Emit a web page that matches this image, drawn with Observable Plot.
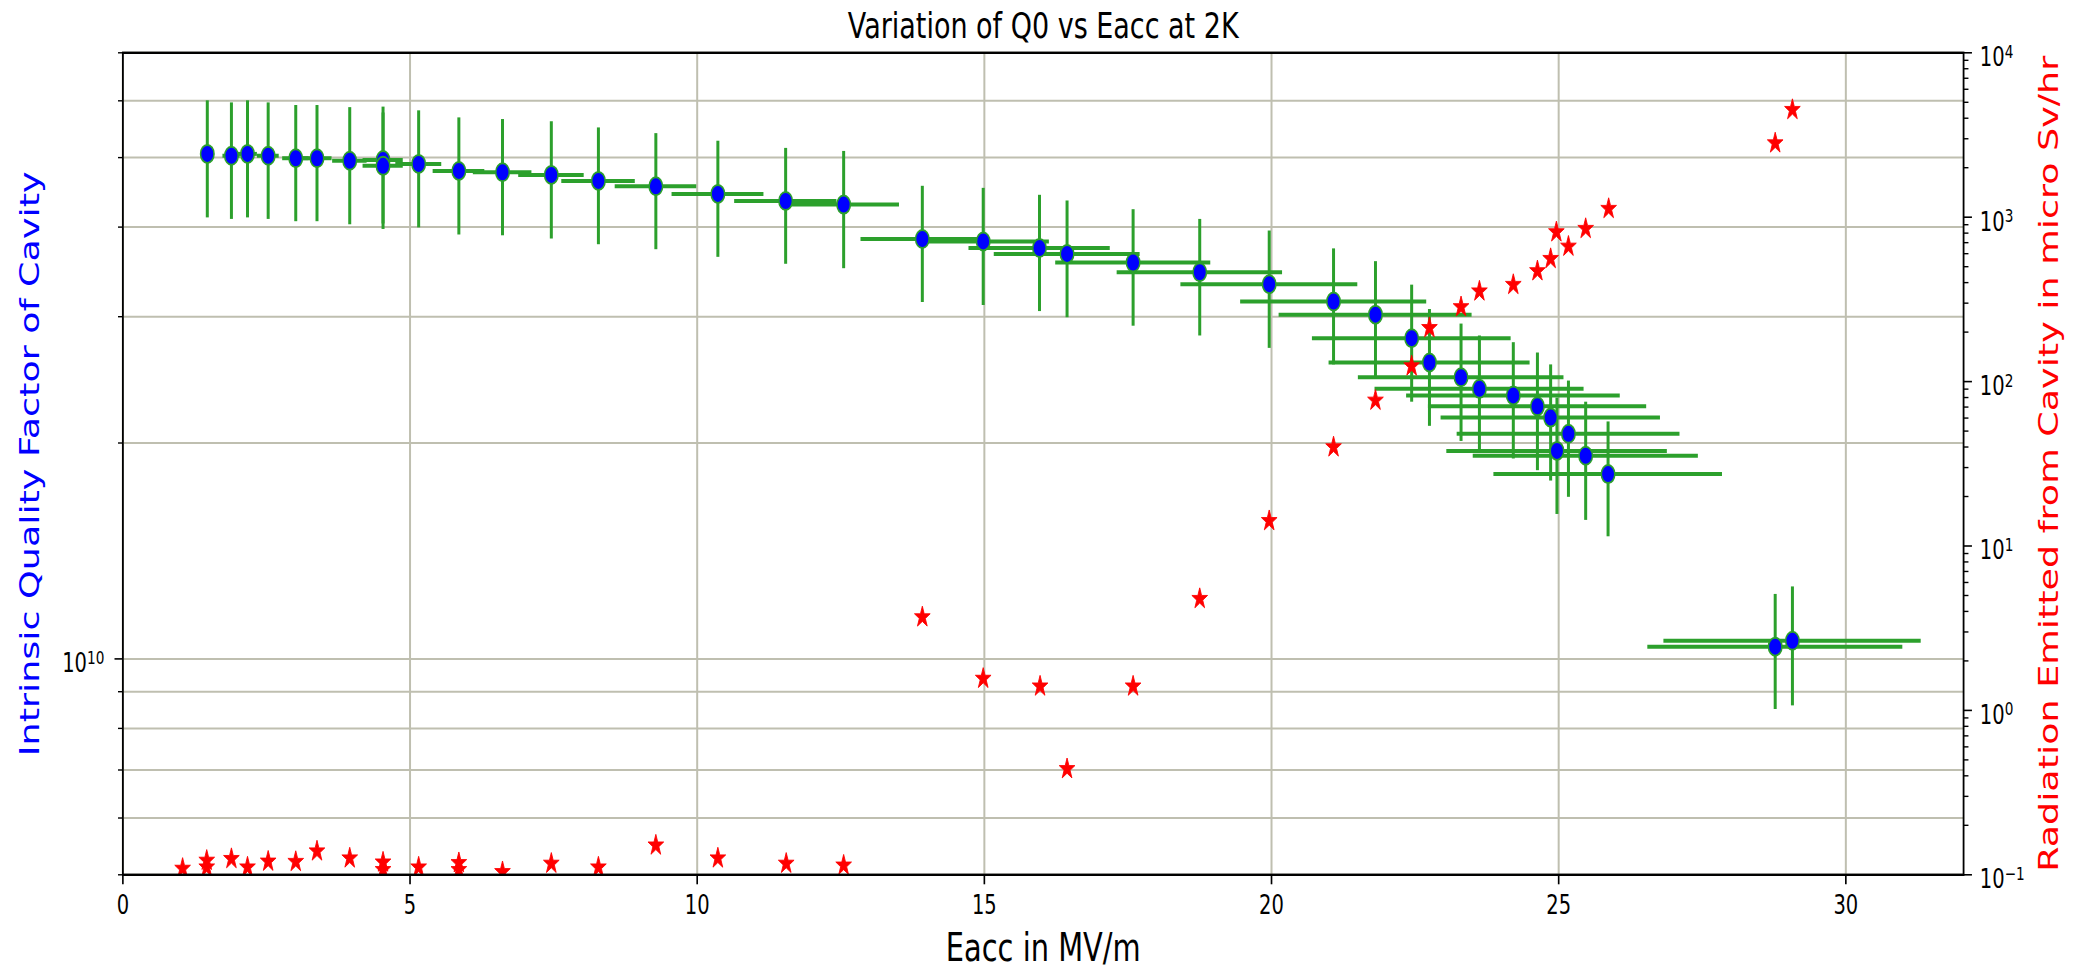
<!DOCTYPE html>
<html>
<head>
<meta charset="utf-8">
<script src="https://cdn.jsdelivr.net/npm/d3@7"></script>
<script src="https://cdn.jsdelivr.net/npm/@observablehq/plot@0.6"></script>
<style>
  html, body { margin: 0; padding: 0; background: #ffffff; }
  #chart svg { display: block; }
</style>
</head>
<body>
<div id="chart"></div>
<script>
// ---------------- data ----------------
const title = "Variation of Q0 vs Eacc at 2K";
const xLabel = "Eacc in MV/m";
const yLeftLabel = "Intrinsic Quality Factor of Cavity";
const yRightLabel = "Radiation Emitted from Cavity in micro Sv/hr";

// Q0 measurements (blue points with green error bars)
const eacc = [1.47, 1.89, 2.17, 2.53, 3.01, 3.38, 3.95, 4.53, 4.53, 5.15, 5.85, 6.61, 7.46, 8.28, 9.28,
  10.36, 11.54, 12.55, 13.92, 14.98, 15.96, 16.44, 17.59, 18.75, 19.96, 21.08, 21.81, 22.44, 22.75,
  23.30, 23.62, 24.21, 24.63, 24.86, 25.17, 24.97, 25.47, 25.86, 28.77, 29.07];
const q0 = [5.06e10, 5.03e10, 5.06e10, 5.03e10, 4.99e10, 4.99e10, 4.95e10, 4.96e10, 4.87e10, 4.90e10,
  4.79e10, 4.77e10, 4.73e10, 4.64e10, 4.56e10, 4.45e10, 4.35e10, 4.30e10, 3.85e10, 3.82e10, 3.74e10,
  3.67e10, 3.57e10, 3.46e10, 3.33e10, 3.15e10, 3.02e10, 2.80e10, 2.59e10, 2.47e10, 2.38e10, 2.33e10,
  2.25e10, 2.17e10, 2.06e10, 1.95e10, 1.92e10, 1.81e10, 1.04e10, 1.06e10];
const eaccErr = [0.11, 0.15, 0.17, 0.19, 0.23, 0.26, 0.30, 0.35, 0.35, 0.40, 0.45, 0.51, 0.57, 0.64, 0.71,
  0.80, 0.89, 0.97, 1.07, 1.15, 1.23, 1.27, 1.35, 1.44, 1.54, 1.62, 1.68, 1.73, 1.75, 1.79, 1.82, 1.86,
  1.90, 1.91, 1.94, 1.92, 1.96, 1.99, 2.22, 2.24];
const q0Err = [0.94e10, 0.93e10, 0.94e10, 0.93e10, 0.92e10, 0.92e10, 0.92e10, 0.92e10, 0.90e10, 0.91e10,
  0.89e10, 0.88e10, 0.88e10, 0.86e10, 0.84e10, 0.82e10, 0.80e10, 0.80e10, 0.71e10, 0.71e10, 0.69e10,
  0.68e10, 0.66e10, 0.64e10, 0.62e10, 0.58e10, 0.56e10, 0.52e10, 0.48e10, 0.46e10, 0.44e10, 0.43e10,
  0.42e10, 0.40e10, 0.38e10, 0.36e10, 0.36e10, 0.33e10, 0.19e10, 0.20e10];

// Radiation measurements (red stars, right axis)
const radEacc = [1.04, 1.46, 1.46, 1.89, 2.17, 2.53, 3.01, 3.38, 3.95, 4.53, 4.53, 5.15, 5.85, 5.85, 6.61,
  7.46, 8.28, 9.28, 10.36, 11.55, 12.55, 13.92, 14.98, 15.97, 16.44, 17.59, 18.75, 19.96, 21.08, 21.81,
  22.44, 22.75, 23.30, 23.62, 24.21, 24.63, 24.86, 24.96, 25.17, 25.47, 25.87, 28.77, 29.07];
const radiation = [0.109, 0.122, 0.111, 0.125, 0.111, 0.1205, 0.120, 0.139, 0.126, 0.119, 0.107, 0.111,
  0.118, 0.107, 0.104, 0.117, 0.111, 0.151, 0.126, 0.117, 0.114, 3.69, 1.56, 1.40, 0.44, 1.40, 4.77,
  14.2, 39.9, 76.7, 124, 212, 284, 354, 388, 470, 558, 811, 663, 850, 1125, 2818, 4498];

// ticks and tick labels
const xTicks = [0, 5, 10, 15, 20, 25, 30];
const q0MajorTicks = [1e10];
const q0MajorLabels = ["10\u00b9\u2070"];
const q0MinorTicks = [5e9, 6e9, 7e9, 8e9, 9e9, 2e10, 3e10, 4e10, 5e10, 6e10, 7e10];
const radMajorTicks = [0.1, 1, 10, 100, 1000, 10000];
const radMajorLabels = ["10\u207b\u00b9", "10\u2070", "10\u00b9", "10\u00b2", "10\u00b3", "10\u2074"];
const radMinorTicks = [0.1, 1, 10, 100, 1000].flatMap(d => [2, 3, 4, 5, 6, 7, 8, 9].map(m => m * d));

// ---------------- layout ----------------
const W = 2090, H = 969;
const SX = 0.75;               // the reference is horizontally compressed
const IW = W / SX;             // internal (uncompressed) width
const Q_MIN = 5e9, Q_MAX = 7e10, R_MIN = 0.1, R_MAX = 1e4;
// map a radiation value onto the shared (left) log scale
const radToQ = r => Q_MIN * Math.pow(Q_MAX / Q_MIN, Math.log10(r / R_MIN) / Math.log10(R_MAX / R_MIN));

const green = "#2ca02c", blue = "#0000ff", red = "#ff0000", grid = "#bfbfb0";

const pts = eacc.map((x, i) => ({x, q: q0[i], xe: eaccErr[i], qe: q0Err[i]}));
const rad = radEacc.map((x, i) => ({x, r: radiation[i], q: radToQ(radiation[i])}));

// matplotlib-like five-pointed star
const starSymbol = {
  draw(context, size) {
    const R = Math.sqrt(size / Math.PI), r = R * 0.381966;
    for (let k = 0; k < 10; k++) {
      const rr = k % 2 ? r : R;
      const a = -Math.PI / 2 + k * Math.PI / 5;
      const px = rr * Math.cos(a), py = rr * Math.sin(a);
      if (k === 0) context.moveTo(px, py); else context.lineTo(px, py);
    }
    context.closePath();
  }
};

const fontFamily = "DejaVu Sans, Liberation Sans, sans-serif";
const tickFont = 26;
const labelFont = 36.5;

const svg = Plot.plot({
  width: IW,
  height: H,
  marginLeft: 122.5 / SX,
  marginRight: (W - 1963.2) / SX,
  marginTop: 52.3,
  marginBottom: H - 874.3,
  x: {domain: [0, 32.05], label: null},
  y: {type: "log", domain: [Q_MIN, Q_MAX], label: null},
  style: {fontFamily, fontSize: tickFont + "px", color: "black", background: "white"},
  marks: [
    // grid
    Plot.ruleY(q0MinorTicks.concat(q0MajorTicks), {stroke: grid, strokeWidth: 2}),
    Plot.ruleX(xTicks, {stroke: grid, strokeWidth: 2 / SX}),
    // error bars
    Plot.ruleY(pts, {y: "q", x1: d => d.x - d.xe, x2: d => d.x + d.xe, stroke: green, strokeWidth: 4}),
    Plot.ruleX(pts, {x: "x", y1: d => d.q - d.qe, y2: d => d.q + d.qe, stroke: green, strokeWidth: 4}),
    // Q0 points
    Plot.dot(pts, {x: "x", y: "q", r: 9, fill: blue, stroke: green, strokeWidth: 2}),
    // radiation stars
    Plot.dot(rad, {x: "x", y: "q", r: 11, symbol: starSymbol, fill: red, stroke: red, strokeWidth: 1, clip: true}),
    // spines
    Plot.frame({stroke: "black", strokeWidth: 2.4}),
    // x axis
    Plot.axisX({ticks: xTicks, anchor: "bottom", tickSize: 10, tickPadding: 11, strokeWidth: 2.2, fontSize: tickFont, label: null}),
    // left axis
    Plot.axisY({ticks: q0MajorTicks, anchor: "left", tickSize: 8 / SX, strokeWidth: 1.6, fill: "none", label: null}),
    Plot.axisY({ticks: q0MinorTicks, anchor: "left", tickSize: 4.5 / SX, strokeWidth: 1.4, fill: "none", label: null}),
    Plot.text(q0MajorTicks, {y: d => d, text: (d, i) => q0MajorLabels[i], frameAnchor: "left", textAnchor: "end",
      dx: -(8 / SX + 14), dy: 5, fontSize: tickFont}),
    // right axis
    Plot.axisY({ticks: radMajorTicks.map(radToQ), anchor: "right", tickSize: 8 / SX, strokeWidth: 1.6, fill: "none", label: null}),
    Plot.axisY({ticks: radMinorTicks.map(radToQ), anchor: "right", tickSize: 4.5 / SX, strokeWidth: 1.4, fill: "none", label: null}),
    Plot.text(radMajorTicks, {y: d => radToQ(d), text: (d, i) => radMajorLabels[i], frameAnchor: "right", textAnchor: "start",
      dx: 8 / SX + 11, dy: 5, fontSize: tickFont}),
    // title and axis labels
    Plot.text([title], {text: d => d, frameAnchor: "top", textAnchor: "middle", lineAnchor: "bottom", dy: 37 - 52.3, fontSize: 36}),
    Plot.text([xLabel], {text: d => d, frameAnchor: "bottom", textAnchor: "middle", lineAnchor: "bottom", dy: 960 - 874.3, fontSize: 38.5}),
    Plot.text([yLeftLabel], {text: d => d, frameAnchor: "left", textAnchor: "middle", rotate: -90, lineAnchor: "bottom",
      dx: 38.5 / SX - 122.5 / SX, fill: blue, fontSize: labelFont}),
    Plot.text([yRightLabel], {text: d => d, frameAnchor: "right", textAnchor: "middle", rotate: -90, lineAnchor: "bottom",
      dx: 2058 / SX - 1963.2 / SX, fill: red, fontSize: labelFont})
  ]
});

// render superscript exponents like matplotlib mathtext (smaller, raised)
const supMap = {"\u2070": "0", "\u00b9": "1", "\u00b2": "2", "\u00b3": "3", "\u2074": "4", "\u207b": "\u2212"};
const supRe = /^([^\u2070\u00b9\u00b2\u00b3\u2074\u207b]+)([\u2070\u00b9\u00b2\u00b3\u2074\u207b]+)$/;
svg.querySelectorAll("text").forEach(t => {
  if (t.children.length) return;
  const m = (t.textContent || "").match(supRe);
  if (!m) return;
  t.textContent = m[1];
  const ts = document.createElementNS("http://www.w3.org/2000/svg", "tspan");
  ts.setAttribute("font-size", "70%");
  ts.setAttribute("dy", "-0.46em");
  ts.textContent = Array.from(m[2]).map(c => supMap[c]).join("");
  t.appendChild(ts);
});

svg.setAttribute("width", W);
svg.setAttribute("height", H);
svg.setAttribute("viewBox", `0 0 ${IW} ${H}`);
svg.setAttribute("preserveAspectRatio", "none");
svg.style.width = W + "px";
svg.style.height = H + "px";
svg.style.maxWidth = "none";
document.getElementById("chart").appendChild(svg);
</script>
</body>
</html>
